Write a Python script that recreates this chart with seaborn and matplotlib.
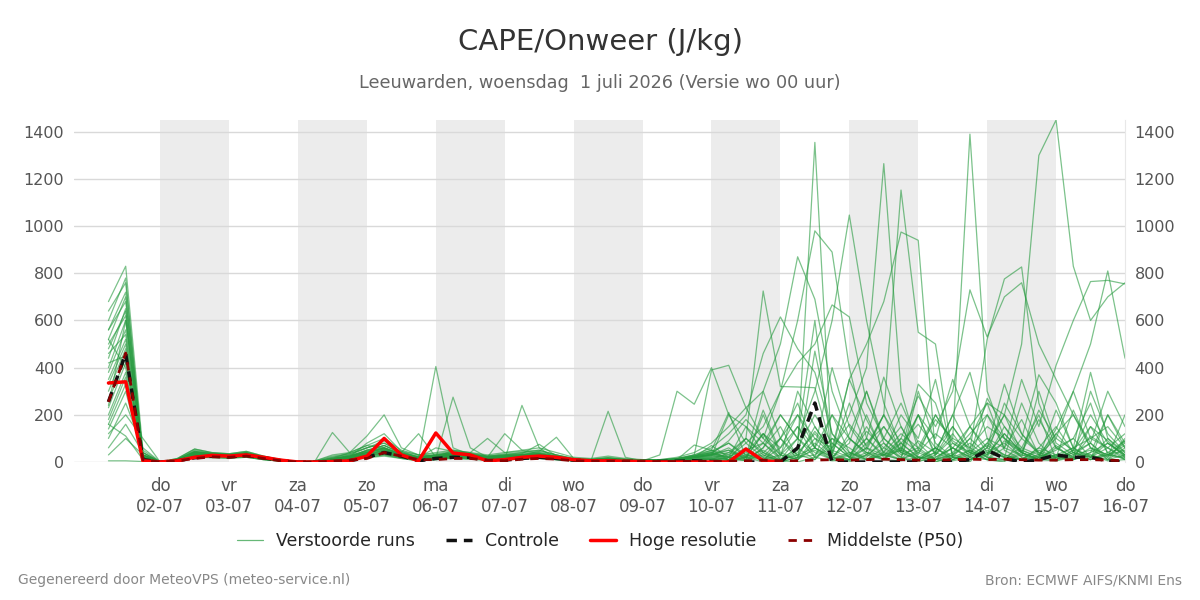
import numpy as np
import pandas as pd
import matplotlib
matplotlib.use("Agg")
import matplotlib.pyplot as plt
import seaborn as sns
from matplotlib.lines import Line2D

# tijdas: 6-uurlijks, 1 juli 06 UTC t/m 16 juli 00 UTC
times = pd.date_range("2026-07-01 06:00", periods=60, freq="6h")

day_names = ["do", "vr", "za", "zo", "ma", "di", "wo", "do",
             "vr", "za", "zo", "ma", "di", "wo", "do"]
day_dates = ["02-07", "03-07", "04-07", "05-07", "06-07", "07-07", "08-07",
             "09-07", "10-07", "11-07", "12-07", "13-07", "14-07", "15-07",
             "16-07"]

# Verstoorde runs (CAPE, J/kg) - per run 60 waarden (4 per dag)
ensemble_runs = [
    [600, 780, 20, 0, 10, 45, 35, 30, 40, 20, 10, 0, 2, 20, 30, 60, 90, 40, 20, 30,
     40, 35, 20, 30, 40, 50, 30, 15, 10, 20, 10, 10, 10, 15, 30, 60, 120, 200, 460, 615,
     480, 380, 120, 40, 20, 100, 250, 80, 10, 40, 120, 200, 60, 30, 20, 140, 300, 100, 60, 20],
    [520, 700, 10, 0, 5, 30, 30, 25, 30, 15, 5, 0, 0, 10, 15, 30, 50, 30, 10, 20,
     30, 25, 15, 20, 25, 30, 20, 10, 5, 10, 5, 5, 5, 10, 20, 10, 40, 20, 10, 5,
     50, 1355, 10, 0, 30, 150, 40, 10, 60, 20, 0, 80, 200, 40, 10, 30, 60, 20, 100, 40],
    [440, 650, 30, 0, 15, 55, 40, 35, 45, 25, 10, 0, 5, 30, 40, 70, 100, 50, 30, 40,
     50, 40, 30, 40, 50, 60, 40, 20, 15, 25, 15, 10, 10, 20, 40, 80, 150, 230, 300, 500,
     870, 690, 300, 100, 40, 10, 60, 200, 100, 350, 150, 40, 20, 250, 80, 10, 50, 150, 40, 90],
    [380, 560, 40, 0, 10, 40, 30, 30, 35, 20, 5, 0, 0, 15, 25, 40, 60, 30, 15, 25,
     35, 30, 20, 25, 30, 40, 25, 10, 10, 15, 10, 5, 5, 10, 25, 40, 20, 80, 150, 300,
     600, 980, 890, 400, 100, 20, 50, 10, 0, 30, 80, 20, 10, 50, 20, 5, 30, 80, 10, 60],
    [300, 480, 10, 0, 8, 35, 30, 28, 30, 18, 8, 0, 0, 8, 20, 35, 45, 25, 10, 15,
     25, 20, 10, 15, 20, 25, 15, 8, 5, 10, 8, 5, 5, 8, 15, 20, 30, 10, 60, 200,
     100, 300, 600, 1047, 600, 250, 60, 10, 40, 200, 380, 100, 20, 10, 60, 30, 10, 40, 200, 80],
    [230, 420, 30, 0, 12, 40, 35, 30, 40, 22, 8, 0, 3, 12, 30, 45, 70, 35, 20, 25,
     35, 30, 20, 25, 30, 35, 20, 12, 8, 15, 10, 8, 8, 12, 25, 50, 10, 100, 30, 0,
     20, 150, 40, 200, 400, 1265, 300, 50, 10, 30, 100, 250, 50, 10, 30, 120, 40, 20, 60, 10],
    [180, 360, 10, 0, 5, 25, 25, 20, 25, 12, 5, 0, 0, 5, 10, 25, 35, 20, 8, 12,
     20, 15, 10, 12, 15, 20, 12, 5, 5, 8, 5, 3, 3, 5, 10, 15, 0, 50, 20, 100,
     200, 60, 400, 150, 50, 200, 1153, 550, 500, 20, 50, 10, 0, 100, 370, 250, 60, 10, 30, 70],
    [140, 300, 20, 0, 10, 30, 28, 25, 28, 15, 6, 0, 2, 10, 20, 30, 40, 25, 15, 20,
     25, 20, 15, 18, 20, 25, 15, 8, 6, 10, 8, 6, 6, 10, 20, 30, 60, 10, 220, 40,
     10, 100, 60, 350, 500, 680, 975, 940, 30, 100, 60, 20, 150, 40, 10, 60, 100, 250, 30, 20],
    [100, 250, 60, 0, 5, 30, 25, 25, 30, 15, 5, 0, 0, 8, 15, 25, 40, 20, 10, 15,
     20, 20, 10, 15, 20, 22, 12, 6, 5, 8, 6, 4, 4, 6, 12, 20, 10, 30, 15, 5,
     30, 10, 80, 20, 60, 30, 10, 50, 180, 100, 1390, 300, 100, 50, 20, 220, 60, 380, 100, 30],
    [500, 620, 10, 0, 10, 40, 32, 28, 32, 18, 6, 0, 0, 12, 22, 40, 55, 30, 15, 20,
     30, 28, 18, 22, 28, 32, 20, 10, 8, 12, 8, 6, 6, 12, 20, 30, 50, 20, 80, 10,
     30, 60, 20, 100, 40, 30, 80, 20, 20, 60, 150, 250, 200, 500, 1300, 1450, 830, 600, 700, 760],
    [560, 680, 40, 0, 12, 50, 38, 32, 38, 22, 8, 0, 0, 15, 25, 50, 70, 40, 25, 30,
     40, 30, 25, 30, 35, 40, 25, 12, 10, 15, 10, 8, 8, 12, 25, 40, 80, 20, 0, 100,
     250, 60, 10, 120, 300, 80, 20, 200, 30, 150, 50, 520, 776, 827, 250, 60, 20, 300, 120, 40],
    [640, 760, 25, 0, 8, 45, 35, 30, 35, 20, 8, 0, 0, 12, 25, 45, 60, 35, 18, 25,
     35, 30, 20, 25, 30, 35, 20, 10, 8, 12, 8, 6, 6, 10, 20, 35, 20, 60, 10, 30,
     100, 20, 200, 40, 10, 60, 150, 30, 200, 80, 40, 100, 60, 350, 150, 410, 600, 765, 770, 755],
    [680, 830, 50, 0, 15, 55, 40, 35, 45, 25, 10, 0, 5, 25, 35, 60, 80, 45, 30, 35,
     45, 38, 25, 35, 40, 45, 30, 15, 12, 18, 12, 8, 8, 15, 30, 50, 30, 100, 40, 10,
     60, 200, 80, 20, 150, 40, 10, 300, 80, 20, 100, 30, 120, 40, 220, 100, 300, 500, 810, 440],
    [400, 600, 15, 0, 10, 35, 30, 28, 32, 18, 6, 0, 0, 10, 20, 35, 50, 30, 15, 18,
     28, 25, 15, 20, 25, 30, 18, 8, 6, 10, 8, 5, 5, 10, 18, 25, 10, 40, 120, 60,
     200, 100, 30, 250, 60, 10, 100, 280, 150, 300, 730, 530, 700, 760, 500, 350, 200, 80, 300, 150],
    [350, 520, 30, 0, 10, 38, 32, 30, 35, 20, 8, 0, 2, 15, 25, 40, 60, 32, 18, 22,
     32, 28, 18, 22, 28, 32, 20, 10, 8, 12, 8, 6, 6, 12, 20, 35, 90, 180, 100, 300,
     420, 500, 666, 615, 250, 100, 30, 60, 200, 90, 40, 10, 60, 180, 30, 100, 50, 200, 80, 30],
    [260, 440, 20, 0, 8, 32, 28, 25, 30, 16, 6, 0, 0, 10, 18, 30, 45, 25, 12, 18,
     28, 22, 14, 18, 22, 28, 16, 8, 6, 10, 6, 5, 5, 10, 30, 390, 410, 230, 100, 30,
     10, 60, 200, 100, 30, 80, 10, 40, 120, 60, 20, 200, 100, 40, 180, 60, 20, 110, 60, 120],
    [200, 380, 10, 0, 5, 28, 25, 22, 28, 14, 5, 0, 0, 8, 15, 28, 40, 22, 10, 15,
     22, 20, 12, 15, 20, 22, 14, 6, 5, 8, 6, 5, 30, 300, 245, 400, 200, 150, 80, 20,
     300, 150, 40, 10, 60, 200, 80, 20, 10, 30, 150, 60, 200, 100, 40, 10, 40, 80, 20, 90],
    [160, 330, 30, 0, 10, 30, 28, 25, 30, 15, 5, 0, 0, 10, 20, 50, 60, 30, 15, 405,
     60, 30, 20, 25, 30, 35, 20, 10, 8, 12, 8, 6, 6, 10, 20, 30, 40, 100, 725, 320,
     318, 315, 50, 20, 10, 30, 100, 40, 10, 60, 20, 80, 30, 10, 60, 150, 40, 20, 80, 30],
    [120, 200, 100, 0, 5, 25, 22, 20, 25, 12, 5, 0, 0, 8, 12, 25, 35, 20, 8, 15,
     275, 60, 20, 15, 20, 18, 10, 5, 5, 6, 4, 3, 3, 6, 10, 15, 10, 20, 50, 5,
     40, 120, 30, 10, 200, 30, 10, 90, 40, 10, 50, 20, 10, 30, 10, 5, 20, 10, 40, 10],
    [60, 160, 40, 0, 5, 22, 20, 18, 22, 10, 4, 0, 0, 6, 12, 20, 30, 18, 8, 12,
     20, 15, 10, 12, 240, 60, 12, 5, 4, 6, 4, 3, 3, 5, 8, 12, 5, 20, 120, 30,
     10, 80, 20, 5, 30, 10, 80, 160, 60, 10, 30, 70, 30, 10, 20, 50, 100, 20, 30, 15],
    [30, 100, 30, 0, 5, 20, 18, 15, 20, 10, 4, 0, 0, 5, 10, 18, 25, 15, 5, 10,
     18, 12, 8, 10, 12, 15, 10, 5, 4, 215, 20, 5, 3, 5, 8, 10, 20, 5, 40, 0,
     20, 50, 10, 40, 10, 30, 50, 20, 0, 20, 10, 40, 80, 20, 10, 30, 15, 60, 30, 80],
    [480, 640, 20, 0, 10, 40, 35, 30, 40, 22, 8, 0, 5, 125, 40, 70, 60, 35, 20, 30,
     40, 30, 20, 120, 50, 35, 20, 10, 8, 12, 8, 6, 6, 10, 20, 30, 10, 50, 80, 200,
     100, 40, 10, 30, 100, 360, 150, 20, 60, 150, 40, 10, 90, 40, 10, 120, 200, 60, 30, 50],
    [330, 500, 10, 0, 8, 32, 28, 26, 30, 18, 6, 0, 0, 15, 40, 110, 200, 60, 30, 25,
     30, 28, 20, 25, 30, 45, 105, 15, 10, 12, 8, 6, 6, 10, 20, 30, 20, 5, 60, 150,
     20, 30, 100, 60, 10, 40, 200, 100, 350, 20, 10, 50, 20, 60, 200, 10, 50, 30, 10, 100],
    [560, 720, 30, 0, 12, 45, 35, 32, 38, 22, 8, 0, 2, 20, 35, 60, 80, 40, 120, 20,
     50, 40, 100, 40, 45, 50, 30, 12, 10, 15, 10, 8, 8, 15, 25, 45, 80, 30, 10, 60,
     150, 60, 20, 10, 80, 150, 50, 200, 20, 60, 10, 30, 250, 120, 40, 20, 60, 100, 150, 60],
    [460, 540, 20, 0, 10, 38, 30, 28, 35, 20, 6, 0, 0, 12, 22, 80, 120, 45, 20, 60,
     45, 35, 25, 30, 35, 75, 25, 10, 8, 12, 8, 6, 6, 10, 20, 70, 20, 150, 40, 100,
     10, 470, 120, 20, 100, 30, 60, 10, 40, 200, 60, 150, 100, 20, 300, 80, 30, 50, 20, 200],
    [5, 5, 2, 0, 5, 20, 20, 18, 20, 10, 4, 0, 0, 5, 10, 20, 30, 15, 5, 10,
     15, 12, 8, 10, 12, 15, 10, 5, 4, 6, 4, 3, 3, 5, 8, 12, 5, 10, 30, 5,
     0, 20, 5, 10, 40, 10, 5, 20, 10, 5, 20, 10, 5, 40, 10, 20, 10, 30, 5, 10],
    [160, 110, 10, 0, 5, 28, 25, 22, 25, 12, 5, 0, 0, 8, 15, 35, 50, 25, 12, 20,
     30, 25, 15, 20, 25, 30, 15, 8, 6, 10, 6, 5, 5, 10, 15, 25, 200, 80, 20, 10,
     60, 10, 100, 30, 130, 60, 20, 0, 30, 120, 20, 60, 20, 10, 50, 20, 10, 40, 80, 25],
    [420, 450, 15, 0, 8, 35, 30, 28, 32, 18, 6, 0, 0, 12, 20, 40, 55, 30, 15, 20,
     35, 28, 18, 22, 28, 32, 18, 8, 6, 10, 6, 5, 5, 10, 72, 50, 210, 20, 300, 100,
     30, 130, 40, 350, 180, 40, 120, 60, 10, 80, 30, 270, 150, 60, 30, 20, 220, 60, 10, 30],
    [240, 600, 25, 0, 10, 42, 35, 30, 38, 20, 8, 0, 0, 14, 22, 50, 70, 38, 22, 28,
     38, 32, 22, 28, 32, 36, 22, 10, 8, 12, 8, 6, 6, 12, 22, 40, 10, 20, 120, 10,
     100, 600, 20, 80, 300, 100, 40, 10, 60, 10, 40, 30, 120, 40, 10, 70, 10, 150, 90, 20],
    [520, 400, 10, 0, 8, 34, 30, 28, 32, 18, 6, 0, 0, 10, 20, 40, 55, 30, 15, 22,
     32, 28, 18, 22, 28, 32, 18, 8, 6, 10, 6, 5, 5, 10, 20, 35, 50, 10, 200, 30,
     150, 20, 60, 160, 70, 200, 40, 330, 250, 30, 10, 60, 330, 120, 30, 10, 40, 10, 200, 60],
]

# Controle run
control = [255, 460, 10, 0, 5, 18, 25, 22, 28, 18, 6, 0, 0, 2, 5, 20, 40, 25, 5, 15,
           20, 20, 5, 8, 15, 20, 15, 8, 5, 5, 3, 2, 2, 3, 5, 2, 0, 0, 0, 0,
           60, 250, 0, 0, 0, 0, 0, 0, 0, 0, 10, 50, 15, 0, 10, 30, 20, 20, 5, 0]

# Hoge resolutie (loopt t/m 11 juli 00 UTC)
hires = [335, 340, 5, 0, 5, 20, 28, 25, 30, 20, 8, 0, 0, 2, 5, 25, 100, 30, 5, 123,
         38, 30, 5, 10, 20, 25, 20, 10, 5, 5, 3, 2, 0, 0, 0, 0, 0, 55, 5, 0]

# Middelste (P50)
p50 = [255, 462, 10, 0, 5, 15, 22, 20, 25, 15, 5, 0, 0, 3, 8, 15, 40, 25, 10, 10,
       15, 15, 8, 5, 12, 15, 12, 5, 3, 3, 2, 2, 2, 2, 3, 3, 3, 5, 8, 5,
       5, 8, 10, 8, 10, 12, 10, 8, 8, 10, 12, 10, 12, 10, 8, 8, 10, 10, 8, 5]

ens_df = pd.DataFrame(
    [(m, t, v) for m, run in enumerate(ensemble_runs) for t, v in zip(times, run)],
    columns=["member", "time", "cape"])

sns.set_style("white")
plt.rcParams["font.family"] = ["DejaVu Sans"]

fig = plt.figure(figsize=(12, 6), dpi=100)
ax = fig.add_axes([74 / 1200, 1 - 462 / 600, (1125 - 74) / 1200, (462 - 120) / 600])

tick_days = pd.date_range("2026-07-02", periods=15, freq="D")
# grijze banden op de even dagen
for d in tick_days[::2][:-1]:
    ax.axvspan(d, d + pd.Timedelta(days=1), color="#ececec", lw=0, zorder=0)

green = "#259a3e"
sns.lineplot(data=ens_df, x="time", y="cape", units="member", estimator=None,
             color=green, lw=0.9, alpha=0.6, ax=ax, legend=False)
sns.lineplot(x=times, y=control, color="#111111", lw=2.5, linestyle=(0, (3, 2)), ax=ax)
sns.lineplot(x=times[:len(hires)], y=hires, color="#ff0000", lw=2.5, ax=ax)
sns.lineplot(x=times, y=p50, color="#8b0000", lw=2.0, linestyle=(0, (3, 2.5)), ax=ax)

ax.set_xlim(pd.Timestamp("2026-06-30 18:00"), pd.Timestamp("2026-07-16 00:00"))
ax.set_ylim(0, 1450)
ax.set_xlabel("")
ax.set_ylabel("")
ax.set_xticks(tick_days)
ax.set_xticklabels([f"{n}\n{d}" for n, d in zip(day_names, day_dates)])
ax.set_yticks(range(0, 1401, 200))
ax.yaxis.grid(True, color="#d9d9d9", lw=1)
ax.set_axisbelow(True)
ax.tick_params(axis="x", length=8, width=1.5, color="#666666", labelsize=12,
               labelcolor="#555555", pad=3)
ax.tick_params(axis="y", length=0, labelsize=11.5, labelcolor="#555555",
               labelright=True, pad=7)
for s in ["top", "left", "bottom"]:
    ax.spines[s].set_visible(False)
ax.spines["right"].set_color("#e8e8e8")

fig.text(0.5, 1 - 42 / 600, "CAPE/Onweer (J/kg)", ha="center", va="center",
         fontsize=21, color="#333333")
fig.text(0.5, 1 - 83 / 600, "Leeuwarden, woensdag  1 juli 2026 (Versie wo 00 uur)",
         ha="center", va="center", fontsize=12.7, color="#666666")

handles = [
    Line2D([], [], color=green, lw=0.9, alpha=0.7),
    Line2D([], [], color="#111111", lw=2.5, linestyle=(0, (3, 2))),
    Line2D([], [], color="#ff0000", lw=2.5),
    Line2D([], [], color="#8b0000", lw=2.0, linestyle=(0, (3, 2.5))),
]
labels = ["Verstoorde runs", "Controle", "Hoge resolutie", "Middelste (P50)"]
fig.legend(handles, labels, loc="center", bbox_to_anchor=(0.5, 1 - 541 / 600),
           ncol=4, frameon=False, fontsize=12.5, handlelength=1.5,
           handletextpad=0.75, columnspacing=1.8)

fig.text(18 / 1200, 1 - 580 / 600, "Gegenereerd door MeteoVPS (meteo-service.nl)",
         ha="left", va="center", fontsize=10, color="#888888")
fig.text(1182 / 1200, 1 - 580 / 600, "Bron: ECMWF AIFS/KNMI Ens",
         ha="right", va="center", fontsize=10, color="#888888")

fig.savefig("out.png", dpi=100)
